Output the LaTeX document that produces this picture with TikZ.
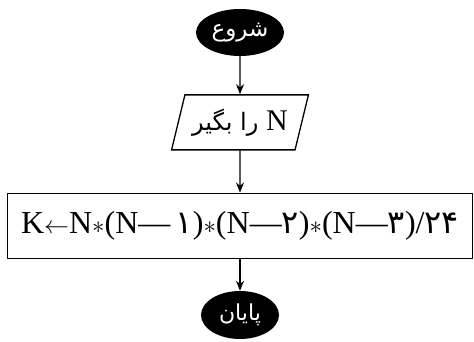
\documentclass[tikz,border=0pt]{standalone}
\usepackage{fontspec}
\setmainfont{Liberation Serif}
\newfontfamily\farsi[Script=Arabic]{DejaVu Sans}
\TeXXeTstate=1
\usepackage{tikz}
\usetikzlibrary{arrows.meta,positioning,shapes.geometric}

\begin{document}
\begin{tikzpicture}[x=1pt, y=1pt,
  term/.style={ellipse, fill=black, text=white, inner sep=0pt,
               minimum width=88pt, minimum height=47pt, font=\farsi\fontsize{23}{26}\selectfont},
  inbox/.style={draw, line width=1.3pt, trapezium, trapezium left angle=67,
               trapezium right angle=113, trapezium stretches=true, inner sep=0pt,
               minimum width=137pt, minimum height=55pt, font=\fontsize{24}{28}\selectfont},
  procbox/.style={draw, line width=1.3pt, inner sep=0pt,
               minimum width=465pt, minimum height=65pt, font=\fontsize{32}{38}\selectfont},
  flow/.style={-{Stealth[length=10pt, width=8pt]}, line width=1.3pt}
]
  \useasboundingbox (0,0) rectangle (474,342);

  \node[term] (start) at (240,309.5) {\beginR شروع\endR};
  \node[inbox, below=38pt of start] (input)
    {\farsi\beginR{\rmfamily\fontsize{30}{34}\selectfont N} را بگیر\endR};
  \node[procbox, below=42pt of input] (calc)
    {K$\leftarrow$N$\ast$(N—\,{\farsi ۱})$\ast$(N—{\farsi ۲})$\ast$(N—{\farsi ۳})/{\farsi ۲۴}};
  \node[term, minimum width=78pt, minimum height=48pt, font=\farsi\fontsize{22}{26}\selectfont,
        below=32pt of calc] (stop) {\beginR پایان\endR};

  \draw[flow] (start) -- (input);
  \draw[flow] (input) -- (calc);
  \draw[flow] (calc) -- (stop);
\end{tikzpicture}
\end{document}
